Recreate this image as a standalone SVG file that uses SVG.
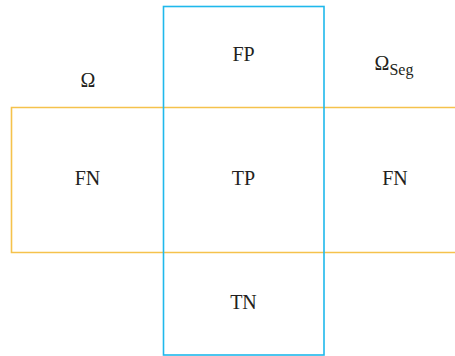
<svg xmlns="http://www.w3.org/2000/svg" width="455" height="356" viewBox="0 0 455 356">
<style>
text{font-family:"Liberation Serif","DejaVu Serif",serif;font-size:20px;fill:#231f20;text-anchor:middle}
.sub{font-size:16px}
</style>
<rect width="455" height="356" fill="#fff"/>
<g id="regions">
<path id="omega-seg" d="M460,107.5 H11.5 V252.5 H460" fill="none" stroke="#f5c24c" stroke-width="1.6"/>
<rect id="omega" x="163.5" y="6.5" width="160.5" height="348.5" fill="none" stroke="#1fb8ec" stroke-width="1.6"/>
</g>
<g id="label-omega"><text x="88" y="87">Ω</text></g>
<g id="label-omega-seg"><text x="394" y="70"><tspan>Ω</tspan><tspan class="sub" dy="5">Seg</tspan></text></g>
<g id="fp"><text x="243.5" y="61">FP</text></g>
<g id="fn-left"><text x="87.5" y="185">FN</text></g>
<g id="tp"><text x="243.5" y="185">TP</text></g>
<g id="fn-right"><text x="395" y="185">FN</text></g>
<g id="tn"><text x="243.5" y="309">TN</text></g>
</svg>
